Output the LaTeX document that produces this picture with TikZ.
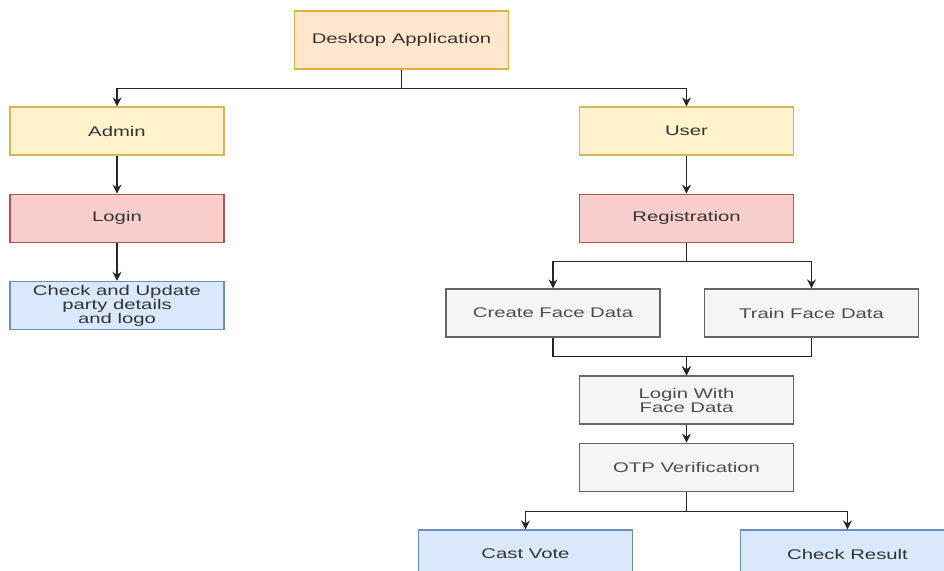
\documentclass[tikz,border=0pt]{standalone}
\usepackage{fontspec}
\setmainfont[FakeStretch=1.45]{Liberation Sans}
\usepackage{tikz}
\usetikzlibrary{calc, positioning, arrows.meta}
\definecolor{txtgray}{HTML}{333333}
\definecolor{txtlight}{HTML}{4D4D4D}
\definecolor{orfill}{HTML}{FFE6CC}
\definecolor{ordraw}{HTML}{E0B040}
\definecolor{yefill}{HTML}{FFF2CC}
\definecolor{yedraw}{HTML}{D6B656}
\definecolor{refill}{HTML}{F8CECC}
\definecolor{redraw}{HTML}{B85450}
\definecolor{blfill}{HTML}{DAE8FC}
\definecolor{bldraw}{HTML}{6C8EBF}
\definecolor{grfill}{HTML}{F5F5F5}
\definecolor{grdraw}{HTML}{666666}

\begin{document}
\begin{tikzpicture}[
    box/.style={draw, line width=1.2pt, minimum width=214pt, minimum height=48pt,
                align=center, text=txtgray, inner sep=1pt,
                font=\fontsize{14pt}{14pt}\selectfont},
    orangebox/.style={box, fill=orfill, draw=ordraw, minimum height=58pt},
    yellowbox/.style={box, fill=yefill, draw=yedraw},
    redbox/.style={box, fill=refill, draw=redraw},
    bluebox/.style={box, fill=blfill, draw=bldraw},
    graybox/.style={box, fill=grfill, draw=grdraw, text=txtlight},
    link/.style={draw=black!85, line width=1.2pt, -{Stealth[length=9pt, width=9pt]}}]

\useasboundingbox (0,0) rectangle (944pt,-570pt);

% top of the tree
\node [orangebox] (desk) at (401.5pt,-40pt) {Desktop Application};
\node [yellowbox] (admin) at (117pt,-131pt) {Admin};
\node [yellowbox] (user)  at (686.5pt,-131pt) {User};

% admin side
\node [redbox,  below= 38pt of admin] (login) {Login};
\node [bluebox, below= 38pt of login] (update) {Check and Update\\party details\\and logo};

% user side
\node [redbox, below= 38pt of user] (reg) {Registration};
\node [graybox] (create) at (553pt,-313pt)   {Create Face Data};
\node [graybox] (train)  at (811.5pt,-313pt) {Train Face Data};
\node [graybox] (facelogin) at (686.5pt,-400pt) {Login With\\Face Data};
\node [graybox, below= 18pt of facelogin] (otp) {OTP Verification};
\node [bluebox] (vote)   at (525.5pt,-554pt) {Cast Vote};
\node [bluebox] (result) at (847.5pt,-554pt) {Check Result};

\draw [link] (desk.south) -- ++(0,-19pt) -| (admin.north);
\draw [link] (desk.south) -- ++(0,-19pt) -| (user.north);
\draw [link] (admin) -- (login);
\draw [link] (login) -- (update);
\draw [link] (user) -- (reg);
\draw [link] (reg.south) -- ++(0,-19pt) -| (create.north);
\draw [link] (reg.south) -- ++(0,-19pt) -| (train.north);
\draw [link] (create.south) -- ++(0,-19pt) -| (facelogin.north);
\draw [link] (train.south) -- ++(0,-19pt) -| (facelogin.north);
\draw [link] (facelogin) -- (otp);
\draw [link] (otp.south) -- ++(0,-20pt) -| (vote.north);
\draw [link] (otp.south) -- ++(0,-20pt) -| (result.north);

\end{tikzpicture}
\end{document}
